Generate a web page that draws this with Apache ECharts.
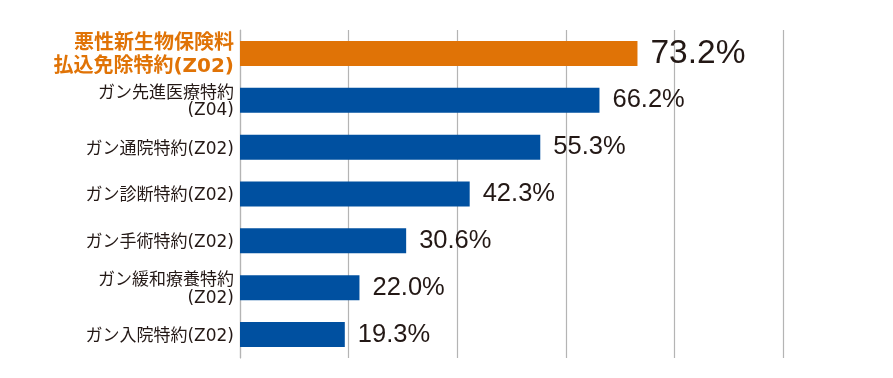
<!DOCTYPE html>
<html><head><meta charset="utf-8">
<script src="https://cdn.jsdelivr.net/npm/echarts@6/dist/echarts.min.js"></script>
<style>html,body{margin:0;padding:0;background:#fff}#c{width:893px;height:378px}</style>
</head><body><div id="c"></div>
<script>
const categories = ["悪性新生物保険料\n払込免除特約(Z02)","ガン先進医療特約\n(Z04)","ガン通院特約(Z02)","ガン診断特約(Z02)","ガン手術特約(Z02)","ガン緩和療養特約\n(Z02)","ガン入院特約(Z02)"];
const values = [73.2, 66.2, 55.3, 42.3, 30.6, 22.0, 19.3];
const xTicks = [0, 20, 40, 60, 80, 100];

const chart = echarts.init(document.getElementById('c'));
const catFont = '"DejaVu Sans", "Noto Sans CJK JP", sans-serif';
const valFont = '"Liberation Sans", Arial, sans-serif';
chart.setOption({
  animation: false,
  grid: {left: 240, right: 110, top: 30, bottom: 20, containLabel: false},
  xAxis: {type: 'value', min: xTicks[0], max: xTicks[xTicks.length-1], interval: 20,
    axisLabel: {show: false}, axisTick: {show: false}, axisLine: {show: false},
    splitLine: {show: true, lineStyle: {color: '#b4b4b4', width: 1.2}}},
  yAxis: {type: 'category', data: categories, inverse: true,
    axisTick: {show: false},
    axisLine: {show: true, lineStyle: {color: '#b4b4b4', width: 1.2}},
    axisLabel: {margin: 6, fontFamily: catFont, fontSize: 17, color: '#231815', lineHeight: 17.5,
      padding: [4, 0, 0, 0],
      formatter: (v, i) => i === 0 ? '{h|' + v.split('\n').join('}\n{h|') + '}' : v,
      rich: {h: {color: '#e07306', fontSize: 20, fontWeight: 'bold', lineHeight: 23, fontFamily: catFont, align: 'right'}}}},
  series: [{type: 'bar', barWidth: 25,
    data: values.map((v, i) => ({value: v,
      itemStyle: {color: i === 0 ? '#e07306' : '#0050a0'},
      label: i === 0 ? {fontSize: 33.5} : {}})),
    label: {show: true, position: 'right', distance: 13, fontFamily: valFont, fontSize: 25.5, color: '#231815',
      formatter: p => p.value.toFixed(1) + '%'}}]
});
</script></body></html>
